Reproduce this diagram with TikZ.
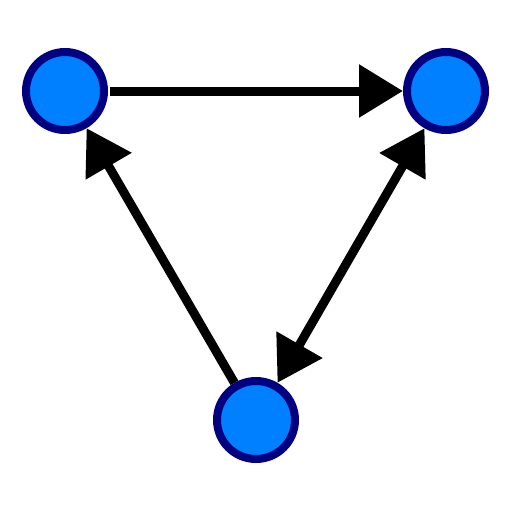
\documentclass[tikz,border=0pt]{standalone}
\usetikzlibrary{arrows.meta}
\definecolor{nodefill}{HTML}{0080FF}
\definecolor{nodeedge}{HTML}{000080}
\begin{document}
\begin{tikzpicture}[x=1pt,y=-1pt,
  vertex/.style={circle,draw=nodeedge,fill=nodefill,line width=8pt,inner sep=0pt,minimum size=78pt},
  edge/.style={line width=9pt,black}]
\useasboundingbox (0,0) rectangle (512,512);
\node[vertex] (a) at (65,91) {};
\node[vertex] (b) at (446,91) {};
\node[vertex] (c) at (256,420) {};
\draw[edge,-{Triangle[length=44pt,width=51pt]},shorten <=2pt] (a) -- (b);
\draw[edge,-{Triangle[length=44pt,width=51pt]}] (c) -- (a);
\draw[edge,{Triangle[length=44pt,width=51pt]}-{Triangle[length=44pt,width=51pt]}] (b) -- (c);
\end{tikzpicture}
\end{document}
